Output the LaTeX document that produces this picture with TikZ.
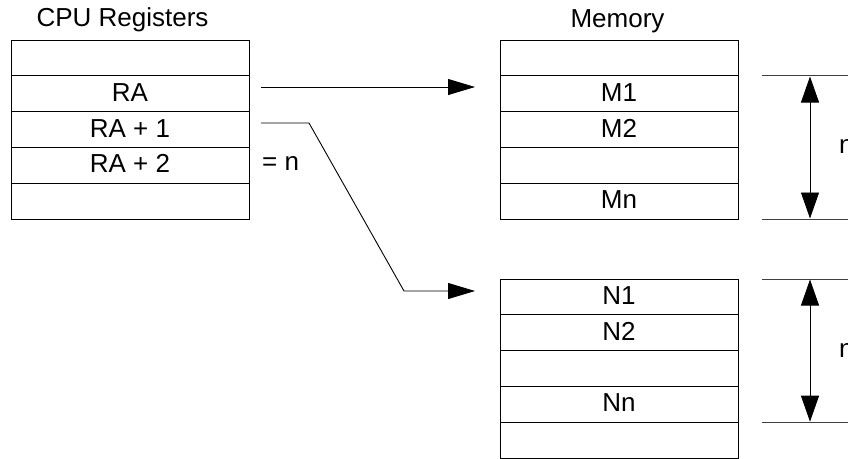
\documentclass[tikz,border=0pt]{standalone}
\usepackage{fontspec}
\setmainfont{Liberation Sans}
\usetikzlibrary{arrows.meta}
\begin{document}
\begin{tikzpicture}[x=1pt,y=-1pt,
  font=\fontsize{26}{30}\selectfont,
  cell/.style={draw, line width=0.9pt, minimum width=238pt, minimum height=35.8pt,
    inner sep=0pt, outer sep=0pt, text height=19pt, text depth=4pt},
  link/.style={line width=0.9pt, -{Triangle[length=27pt,width=16pt]}},
  dimarrow/.style={line width=0.9pt,
    {Triangle[length=26pt,width=18pt]}-{Triangle[length=26pt,width=18pt]}},
  ext/.style={line width=0.9pt, draw=black!75},
  lbl/.style={inner sep=0pt}]
\useasboundingbox (0,0) rectangle (848,458);
\clip (0,0) rectangle (848,458);

% titles
\node[lbl, anchor=base] (tcpu) at (122.5,26) {CPU Registers};
\node[lbl, anchor=base] (tmem) at (617.5,27) {Memory};

% register file
\foreach \i/\t in {0/,1/RA,2/RA + 1,3/RA + 2,4/}
  \node[cell] (r\i) at (130,{57.9+35.8*\i}) {\t};

% first memory block
\foreach \i/\t in {0/,1/M1,2/M2,3/,4/Mn}
  \node[cell] (m\i) at (619,{57.9+35.8*\i}) {\t};

% second memory block
\foreach \i/\t in {0/N1,1/N2,2/,3/Nn,4/}
  \node[cell] (n\i) at (619,{296.9+35.8*\i}) {\t};

% count note
\node[lbl, anchor=base west] (eqn) at (262,170) {= n};

% pointers from the registers to memory
\coordinate (a1s) at (261,87);
\coordinate (a1e) at (475,87);
\draw[link] (a1s) -- (a1e);

\coordinate (a2s) at (261,123);
\coordinate (a2k1) at (309,123);
\coordinate (a2k2) at (404,291);
\coordinate (a2e) at (475,291);
\draw[link] (a2s) -- (a2k1) -- (a2k2) -- (a2e);

% size of the first block
\coordinate (d1a) at (762,75.8);
\coordinate (d1b) at (848,75.8);
\coordinate (d1c) at (762,219);
\coordinate (d1d) at (848,219);
\draw[ext] (d1a) -- (d1b);
\draw[ext] (d1c) -- (d1d);
\coordinate (d1t) at (810,76.5);
\coordinate (d1u) at (810,218.5);
\draw[dimarrow] (d1t) -- (d1u);
\node[lbl, anchor=base west] (dn1) at (839,153) {n};

% size of the second block
\coordinate (d2a) at (762,279);
\coordinate (d2b) at (848,279);
\coordinate (d2c) at (762,422.2);
\coordinate (d2d) at (848,422.2);
\draw[ext] (d2a) -- (d2b);
\draw[ext] (d2c) -- (d2d);
\coordinate (d2t) at (810,279.5);
\coordinate (d2u) at (810,421.7);
\draw[dimarrow] (d2t) -- (d2u);
\node[lbl, anchor=base west] (dn2) at (839,357) {n};
\end{tikzpicture}
\end{document}
